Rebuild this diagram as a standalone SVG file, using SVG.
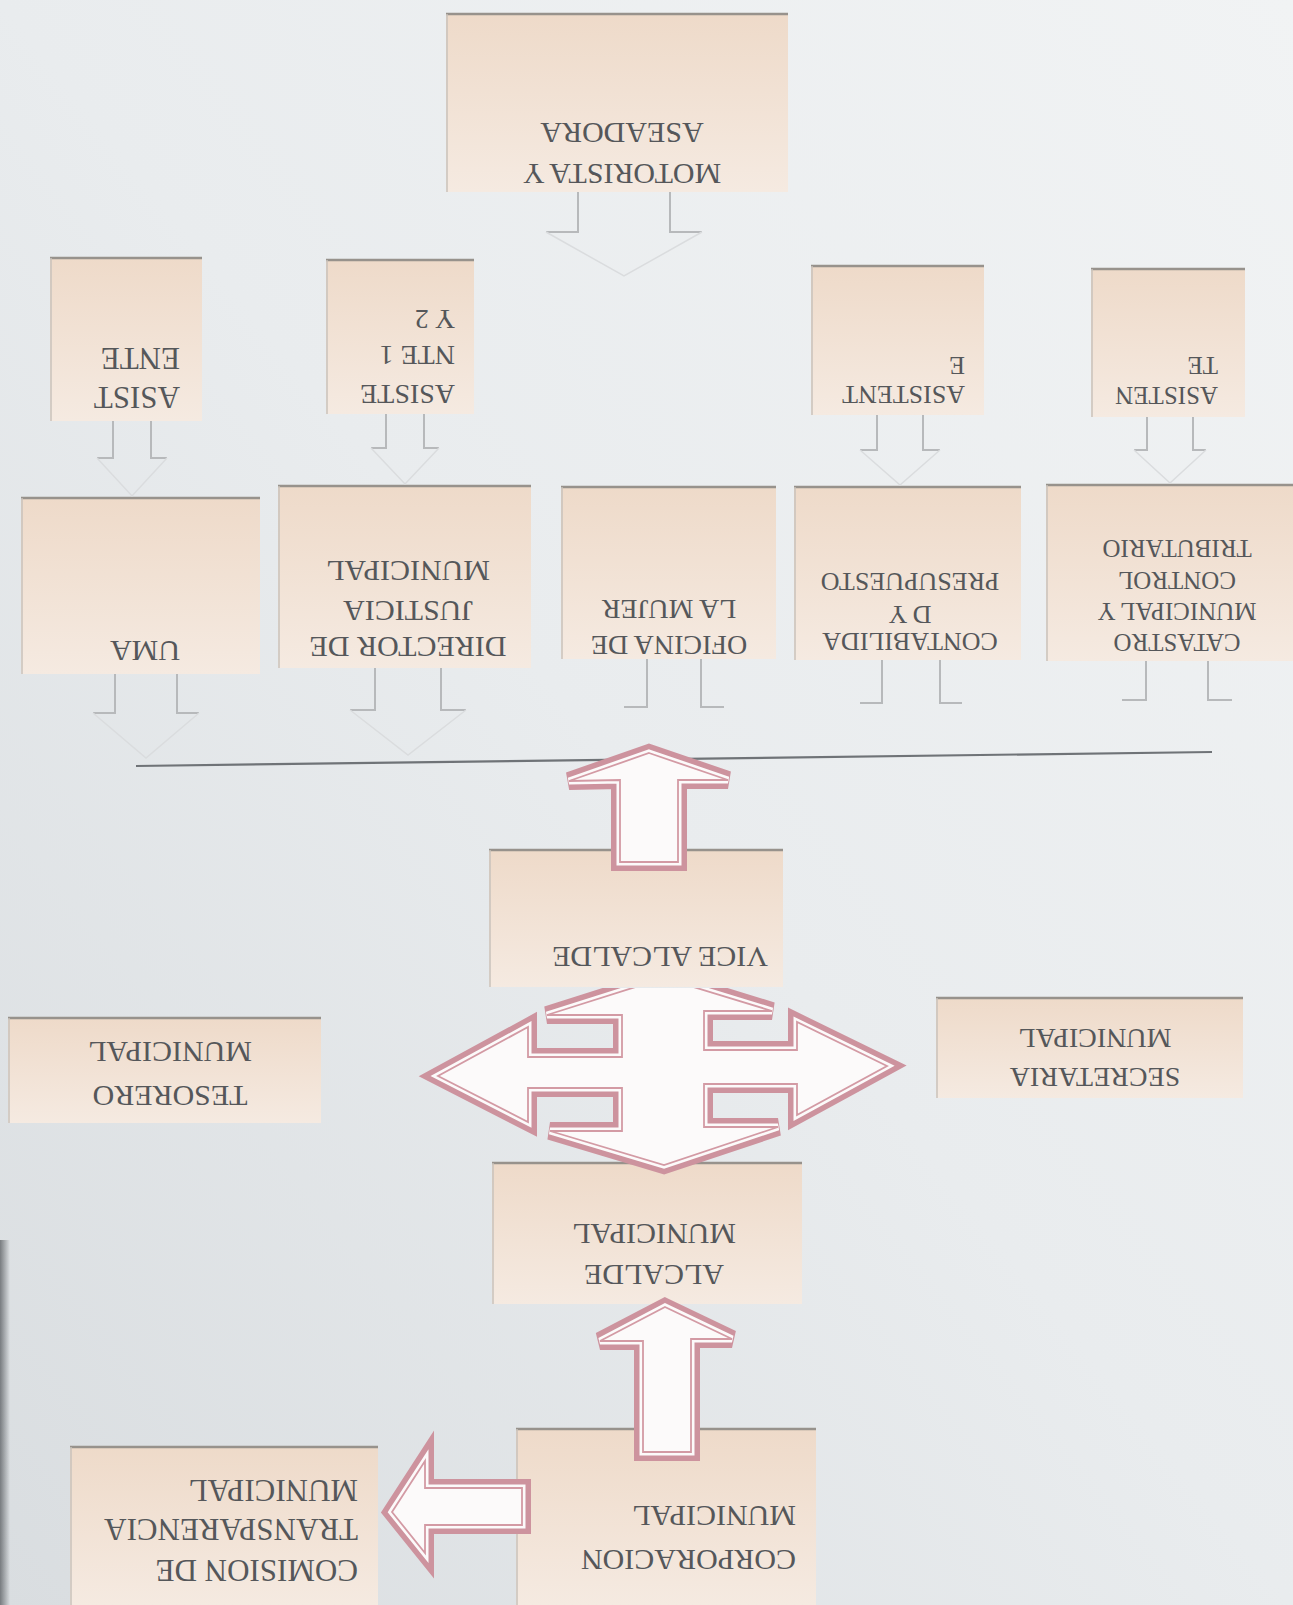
<svg xmlns="http://www.w3.org/2000/svg" width="1293" height="1605" viewBox="0 0 1293 1605">
<defs>
<linearGradient id="paper" x1="0" y1="1" x2="1" y2="0">
<stop offset="0" stop-color="#d9dde0"/>
<stop offset="0.5" stop-color="#e9ecee"/>
<stop offset="1" stop-color="#f1f3f4"/>
</linearGradient>
<linearGradient id="edge" x1="0" y1="0" x2="1" y2="0">
<stop offset="0" stop-color="#5f6367" stop-opacity="0.8"/>
<stop offset="1" stop-color="#5f6367" stop-opacity="0"/>
</linearGradient>
<linearGradient id="fillb" x1="0" y1="0" x2="0" y2="1">
<stop offset="0" stop-color="#eedac9"/>
<stop offset="1" stop-color="#f5eae1"/>
</linearGradient>
<clipPath id="cv"><rect x="0" y="988" width="1293" height="617"/></clipPath>
<path id="a1" d="M649,753 L728,780 L678,780 L678,862 L620,862 L620,780 L569,781 Z"/>
<path id="a2" d="M664,978 L772,1011 L704,1011 L704,1050 L797,1050 L797,1022 L887,1066 L797,1115 L797,1084 L704,1084 L704,1127 L778,1127 L664,1165 L550,1131 L622,1131 L622,1088 L528,1088 L528,1122 L438,1076 L528,1027 L528,1057 L622,1057 L622,1015 L547,1015 Z"/>
<path id="a3" d="M665,1307 L732,1339 L691,1339 L691,1452 L643,1452 L643,1341 L600,1341 Z"/>
<path id="a4" d="M392,1512 L425,1461 L425,1488 L522,1488 L522,1525 L425,1525 L425,1553 Z"/>
</defs>
<style>
.bx{fill:url(#fillb)}
.tp{fill:none;stroke:#97928c;stroke-width:2.5}
.lf{fill:none;stroke:#c8c2bb;stroke-width:1.5}
.t{font-family:"Liberation Serif","Times New Roman",serif;fill:#55575a}
.fk{fill:none;stroke:#b7b9bb;stroke-width:2}
.fv{fill:none;stroke:#dadcde;stroke-width:1.5}
.p1{fill:none;stroke:#cd939e;stroke-width:18}
.p2{fill:#fcfafa;stroke:#fcfafa;stroke-width:7}
.p3{fill:none;stroke:#d39aa4;stroke-width:1.8}
</style>
<rect x="0" y="0" width="1293" height="1605" fill="url(#paper)"/>
<rect x="0" y="1240" width="10" height="365" fill="url(#edge)"/>

<g id="motorista">
<rect class="bx" x="446" y="13" width="342" height="179"/>
<path class="tp" d="M446,14 H788"/><path class="lf" d="M447,14 V192"/>
<g class="t" font-size="30" text-anchor="middle" transform="rotate(180 622 153.5)">
<text x="622" y="143">MOTORISTA Y</text><text x="622" y="184">ASEADORA</text>
</g>
</g>

<g id="asistente-uma">
<rect class="bx" x="50" y="257" width="152" height="164"/>
<path class="tp" d="M50,258 H202"/><path class="lf" d="M51,258 V421"/>
<g class="t" font-size="31" text-anchor="start" transform="rotate(180 180 377)">
<text x="180" y="367">ASIST</text><text x="180" y="406">ENTE</text>
</g>
</g>

<g id="asistente-juez">
<rect class="bx" x="326" y="259" width="148" height="155"/>
<path class="tp" d="M326,260 H474"/><path class="lf" d="M327,260 V414"/>
<g class="t" font-size="28" text-anchor="start" transform="rotate(180 455 356)">
<text x="455" y="327">ASISTE</text><text x="455" y="366">NTE 1</text><text x="455" y="402">Y 2</text>
</g>
</g>

<g id="asistente-contabilidad">
<rect class="bx" x="811" y="265" width="173" height="150"/>
<path class="tp" d="M811,266 H984"/><path class="lf" d="M812,266 V415"/>
<g class="t" font-size="26" text-anchor="start" transform="rotate(180 965 380)">
<text x="965" y="374">ASISTENT</text><text x="965" y="403">E</text>
</g>
</g>

<g id="asistente-catastro">
<rect class="bx" x="1091" y="268" width="154" height="149"/>
<path class="tp" d="M1091,269 H1245"/><path class="lf" d="M1092,269 V417"/>
<g class="t" font-size="25" text-anchor="start" transform="rotate(180 1218 380)">
<text x="1218" y="373">ASISTEN</text><text x="1218" y="403">TE</text>
</g>
</g>

<g id="uma">
<rect class="bx" x="21" y="497" width="239" height="177"/>
<path class="tp" d="M21,498 H260"/><path class="lf" d="M22,498 V674"/>
<g class="t" font-size="30" text-anchor="middle" transform="rotate(180 145 651)">
<text x="145" y="661">UMA</text>
</g>
</g>

<g id="director-justicia">
<rect class="bx" x="278" y="485" width="253" height="183"/>
<path class="tp" d="M278,486 H531"/><path class="lf" d="M279,486 V668"/>
<g class="t" font-size="30" text-anchor="middle" transform="rotate(180 408 609)">
<text x="408" y="581">DIRECTOR DE</text><text x="408" y="617">JUSTICIA</text><text x="408" y="657">MUNICIPAL</text>
</g>
</g>

<g id="oficina-mujer">
<rect class="bx" x="561" y="486" width="215" height="173"/>
<path class="tp" d="M561,487 H776"/><path class="lf" d="M562,487 V659"/>
<g class="t" font-size="28" text-anchor="middle" transform="rotate(180 669 627)">
<text x="669" y="618">OFICINA DE</text><text x="669" y="654">LA MUJER</text>
</g>
</g>

<g id="contabilidad">
<rect class="bx" x="794" y="486" width="227" height="174"/>
<path class="tp" d="M794,487 H1021"/><path class="lf" d="M795,487 V660"/>
<g class="t" font-size="26" text-anchor="middle" transform="rotate(180 910 612)">
<text x="910" y="591">CONTABILIDA</text><text x="910" y="618">D Y</text><text x="910" y="651">PRESUPUESTO</text>
</g>
</g>

<g id="catastro">
<rect class="bx" x="1046" y="484" width="247" height="177"/>
<path class="tp" d="M1046,485 H1293"/><path class="lf" d="M1047,485 V661"/>
<g class="t" font-size="25" text-anchor="middle" transform="rotate(180 1177 595)">
<text x="1177" y="556">CATASTRO</text><text x="1177" y="587">MUNICIPAL Y</text><text x="1177" y="618">CONTROL</text><text x="1177" y="650">TRIBUTARIO</text>
</g>
</g>

<g id="vice-alcalde">
<rect class="bx" x="489" y="849" width="294" height="138"/>
<path class="tp" d="M489,850 H783"/><path class="lf" d="M490,850 V987"/>
<g class="t" font-size="30" text-anchor="middle" transform="rotate(180 660 957)">
<text x="660" y="967">VICE ALCALDE</text>
</g>
</g>

<g id="secretaria">
<rect class="bx" x="936" y="997" width="307" height="101"/>
<path class="tp" d="M936,998 H1243"/><path class="lf" d="M937,998 V1098"/>
<g class="t" font-size="28" text-anchor="middle" transform="rotate(180 1095 1057.5)">
<text x="1095" y="1047">SECRETARIA</text><text x="1095" y="1086">MUNICIPAL</text>
</g>
</g>

<g id="tesorero">
<rect class="bx" x="8" y="1017" width="313" height="106"/>
<path class="tp" d="M8,1018 H321"/><path class="lf" d="M9,1018 V1123"/>
<g class="t" font-size="30" text-anchor="middle" transform="rotate(180 170 1074)">
<text x="170" y="1062">TESORERO</text><text x="170" y="1106">MUNICIPAL</text>
</g>
</g>

<g id="alcalde">
<rect class="bx" x="492" y="1162" width="310" height="142"/>
<path class="tp" d="M492,1163 H802"/><path class="lf" d="M493,1163 V1304"/>
<g class="t" font-size="30" text-anchor="middle" transform="rotate(180 654 1254.5)">
<text x="654" y="1244">ALCALDE</text><text x="654" y="1285">MUNICIPAL</text>
</g>
</g>

<g id="corporacion">
<rect class="bx" x="516" y="1428" width="300" height="177"/>
<path class="tp" d="M516,1429 H816"/><path class="lf" d="M517,1429 V1605"/>
<g class="t" font-size="30" text-anchor="start" transform="rotate(180 796 1538)">
<text x="796" y="1526">CORPORACION</text><text x="796" y="1570">MUNICIPAL</text>
</g>
</g>

<g id="comision">
<rect class="bx" x="70" y="1446" width="308" height="159"/>
<path class="tp" d="M70,1447 H378"/><path class="lf" d="M71,1447 V1605"/>
<g class="t" font-size="31" text-anchor="start" transform="rotate(180 358 1530)">
<text x="358" y="1500">COMISION DE</text><text x="358" y="1541">TRANSPARENCIA</text><text x="358" y="1580">MUNICIPAL</text>
</g>
</g>

<g id="connectors">
<path class="fk" d="M113,421 V458 H97 M151,421 V458 H167 M386,414 V448 H371 M424,414 V448 H439 M877,415 V450 H860 M923,415 V450 H940 M1147,417 V450 H1134 M1193,417 V450 H1206 M578,192 V232 H546 M670,192 V232 H702 M115,674 V713 H93 M177,674 V713 H199 M375,668 V710 H350 M441,668 V710 H466 M647,659 V707 H624 M701,659 V707 H724 M882,660 V703 H860 M940,660 V703 H962 M1146,661 V700 H1122 M1208,661 V700 H1232"/>
<path class="fv" d="M97,458 L132,496 L167,458 M371,448 L405,484 L439,448 M860,450 L900,485 L940,450 M1134,450 L1170,483 L1206,450 M546,232 L624,276 L702,232 M93,713 L146,758 L199,713 M350,710 L408,755 L466,710"/>
<path d="M136,766 L1212,752" fill="none" stroke="#6f7377" stroke-width="2.2"/>
<g clip-path="url(#cv)">
<use href="#a2" class="p1"/><use href="#a2" class="p2"/><use href="#a2" class="p3"/>
</g>
<use href="#a1" class="p1"/><use href="#a1" class="p2"/><use href="#a1" class="p3"/>
<use href="#a3" class="p1"/><use href="#a3" class="p2"/><use href="#a3" class="p3"/>
<use href="#a4" class="p1"/><use href="#a4" class="p2"/><use href="#a4" class="p3"/>
</g>
</svg>
